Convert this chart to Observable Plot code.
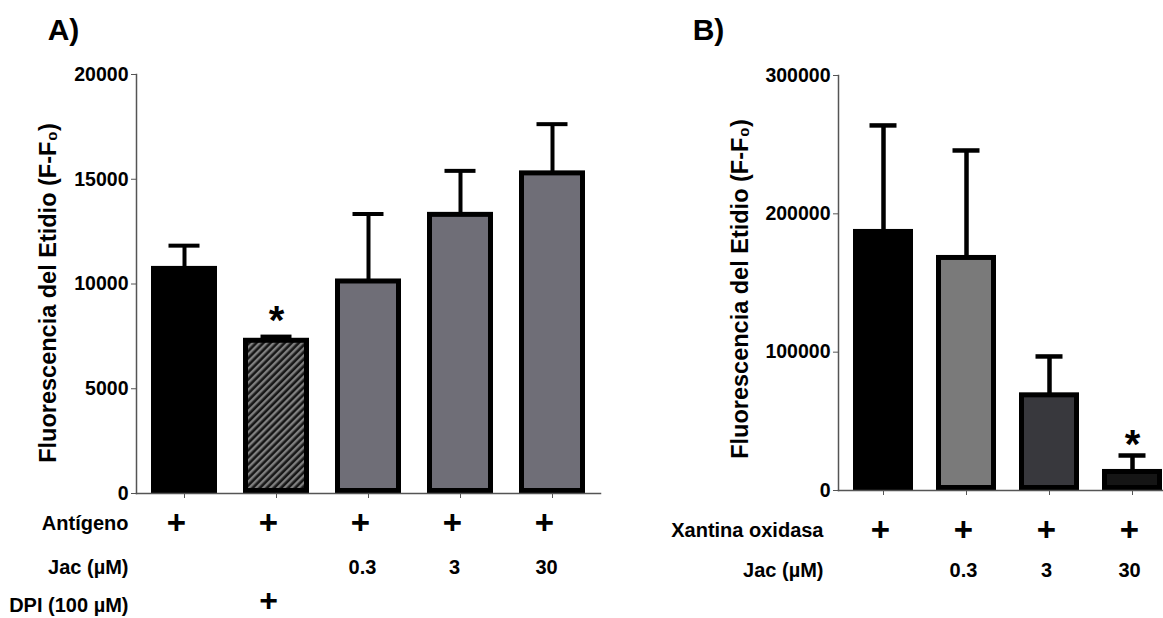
<!DOCTYPE html>
<html>
<head>
<meta charset="utf-8">
<script src="https://cdn.jsdelivr.net/npm/d3@7"></script>
<script src="https://cdn.jsdelivr.net/npm/@observablehq/plot@0.6"></script>
<style>
  html, body { margin: 0; padding: 0; background: #fff; }
  #wrap { position: relative; width: 1163px; height: 618px; overflow: hidden; background: #fff; }
  #panelA { position: absolute; left: 0; top: 0; }
  #panelB { position: absolute; left: 620px; top: 0; }
</style>
</head>
<body>
<div id="wrap"><div id="panelA"></div><div id="panelB"></div></div>
<script>
// ---------- Panel A data ----------
const categoriesA = ["Antígeno", "Antígeno + DPI", "Jac 0.3", "Jac 3", "Jac 30"];
const meansA = [10720, 7290, 10120, 13300, 15280];
const errorsA = [1110, 200, 3220, 2100, 2350];
const significantA = [false, true, false, false, false];
const antigenoRowA = ["+", "+", "+", "+", "+"];
const jacRowA = ["", "", "0.3", "3", "30"];
const dpiRowA = ["", "+", "", "", ""];
const yTicksA = [0, 5000, 10000, 15000, 20000];
const fillsA = ["#000000", "url(#hatchA)", "#6f6e77", "#6f6e77", "#6f6e77"];

// ---------- Panel B data ----------
const categoriesB = ["Xantina oxidasa", "XO + Jac 0.3", "XO + Jac 3", "XO + Jac 30"];
const meansB = [186900, 168100, 68800, 13400];
const errorsB = [77000, 77700, 28100, 11900];
const significantB = [false, false, false, true];
const xoRowB = ["+", "+", "+", "+"];
const jacRowB = ["", "0.3", "3", "30"];
const yTicksB = [0, 100000, 200000, 300000];
const fillsB = ["#000000", "#7a7a7a", "#38383d", "#151515"];

const yTitle = "Fluorescencia del Etidio (F-F₀)";
const font = "'Liberation Sans', Arial, Helvetica, sans-serif";

const dataA = categoriesA.map((c, i) => ({
  cat: c, mean: meansA[i], err: errorsA[i], sig: significantA[i],
  ant: antigenoRowA[i], jac: jacRowA[i], dpi: dpiRowA[i]
}));
const dataB = categoriesB.map((c, i) => ({
  cat: c, mean: meansB[i], err: errorsB[i], sig: significantB[i],
  xo: xoRowB[i], jac: jacRowB[i]
}));

const common = {
  style: { fontFamily: font, fontSize: "19px", fontWeight: "bold", color: "black", background: "transparent", overflow: "visible" }
};
const T = { fontWeight: "bold", fill: "black" };
const LBL = 20;   // row-label font size
const TICK = 19.5; // tick-label font size
const TITLE = 23.5;

const svgA = Plot.plot({
  ...common,
  width: 620, height: 618,
  marginLeft: 136, marginRight: 20, marginTop: 74, marginBottom: 125,
  x: { type: "band", domain: categoriesA, paddingInner: 0.285, paddingOuter: 0.157, axis: null },
  y: { domain: [0, 20000], axis: null },
  color: { domain: categoriesA, range: fillsA },
  marks: [
    Plot.barY(dataA, { x: "cat", y: "mean", fill: "cat", stroke: "black", strokeWidth: 5, insetLeft: 2.5, insetRight: 2.5, insetBottom: 2.5 }),
    Plot.ruleX(dataA, { x: "cat", y1: "mean", y2: d => d.mean + d.err, stroke: "black", strokeWidth: 4 }),
    Plot.tickY(dataA, { x: "cat", y: d => d.mean + d.err, stroke: "black", strokeWidth: 4, insetLeft: 17.5, insetRight: 17.5 }),
    Plot.frame({ anchor: "left", stroke: "#555", strokeWidth: 1.5 }),
    Plot.frame({ anchor: "bottom", stroke: "#555", strokeWidth: 1.5 }),
    Plot.axisY({ ticks: yTicksA, tickFormat: d => String(d), tickSize: 5, tickPadding: 3, stroke: "#555", fontSize: TICK, fontWeight: "bold", label: null }),
    Plot.axisX({ tickSize: 5, stroke: "#555", fill: "none", label: null }),
    Plot.text(dataA.filter(d => d.sig), { x: "cat", y: d => d.mean + d.err, text: () => "*", dy: -15, fontSize: 40, ...T }),
    Plot.text(dataA, { x: "cat", text: "ant", frameAnchor: "bottom", lineAnchor: "middle", textAnchor: "middle", dy: 30, dx: -8, fontSize: 33, ...T }),
    Plot.text(dataA, { x: "cat", text: "jac", frameAnchor: "bottom", lineAnchor: "middle", textAnchor: "middle", dy: 74, dx: -6, fontSize: LBL, ...T }),
    Plot.text(dataA, { x: "cat", text: "dpi", frameAnchor: "bottom", lineAnchor: "middle", textAnchor: "middle", dy: 107, dx: -8, fontSize: 32, ...T }),
    Plot.text(["Antígeno"], { frameAnchor: "bottom-left", textAnchor: "end", lineAnchor: "middle", dx: -8, dy: 30, fontSize: LBL, ...T }),
    Plot.text(["Jac (µM)"], { frameAnchor: "bottom-left", textAnchor: "end", lineAnchor: "middle", dx: -8, dy: 74, fontSize: LBL, ...T }),
    Plot.text(["DPI (100 µM)"], { frameAnchor: "bottom-left", textAnchor: "end", lineAnchor: "middle", dx: -8, dy: 112, fontSize: LBL, ...T }),
    Plot.text([yTitle], { frameAnchor: "left", rotate: -90, textAnchor: "middle", lineAnchor: "middle", dx: -88, dy: 9, fontSize: TITLE, ...T }),
    Plot.text(["A)"], { frameAnchor: "top-left", textAnchor: "middle", lineAnchor: "middle", dx: -73, dy: -44, fontSize: 30, ...T })
  ]
});
svgA.insertAdjacentHTML("afterbegin",
  '<defs><pattern id="hatchA" patternUnits="userSpaceOnUse" width="5" height="5" patternTransform="rotate(45)">' +
  '<rect width="5" height="5" fill="#161616"></rect><rect width="2.4" height="5" fill="#808080"></rect></pattern></defs>');
document.getElementById("panelA").appendChild(svgA);

const svgB = Plot.plot({
  ...common,
  width: 543, height: 618,
  marginLeft: 218, marginRight: 0, marginTop: 75, marginBottom: 128,
  x: { type: "band", domain: categoriesB, paddingInner: 0.28, paddingOuter: 0.086, align: 0.9, axis: null },
  y: { domain: [0, 300000], axis: null },
  color: { domain: categoriesB, range: fillsB },
  marks: [
    Plot.barY(dataB, { x: "cat", y: "mean", fill: "cat", stroke: "black", strokeWidth: 5, insetLeft: 2.5, insetRight: 2.5, insetBottom: 2.5 }),
    Plot.ruleX(dataB, { x: "cat", y1: "mean", y2: d => d.mean + d.err, stroke: "black", strokeWidth: 4.5 }),
    Plot.tickY(dataB, { x: "cat", y: d => d.mean + d.err, stroke: "black", strokeWidth: 4.5, insetLeft: 16.5, insetRight: 16.5 }),
    Plot.frame({ anchor: "left", stroke: "#555", strokeWidth: 1.5 }),
    Plot.frame({ anchor: "bottom", stroke: "#555", strokeWidth: 1.5 }),
    Plot.axisY({ ticks: yTicksB, tickFormat: d => String(d), tickSize: 5, tickPadding: 3, stroke: "#555", fontSize: TICK, fontWeight: "bold", label: null }),
    Plot.axisX({ tickSize: 5, stroke: "#555", fill: "none", label: null }),
    Plot.text(dataB.filter(d => d.sig), { x: "cat", y: d => d.mean + d.err, text: () => "*", dy: -10, fontSize: 40, ...T }),
    Plot.text(dataB, { x: "cat", text: "xo", frameAnchor: "bottom", lineAnchor: "middle", textAnchor: "middle", dy: 40, dx: -3, fontSize: 33, ...T }),
    Plot.text(dataB, { x: "cat", text: "jac", frameAnchor: "bottom", lineAnchor: "middle", textAnchor: "middle", dy: 80, dx: -3, fontSize: LBL, ...T }),
    Plot.text(["Xantina oxidasa"], { frameAnchor: "bottom-left", textAnchor: "end", lineAnchor: "middle", dx: -15, dy: 40, fontSize: LBL, ...T }),
    Plot.text(["Jac (µM)"], { frameAnchor: "bottom-left", textAnchor: "end", lineAnchor: "middle", dx: -15, dy: 80, fontSize: LBL, ...T }),
    Plot.text([yTitle], { frameAnchor: "left", rotate: -90, textAnchor: "middle", lineAnchor: "middle", dx: -98, dy: 6, fontSize: TITLE, ...T }),
    Plot.text(["B)"], { frameAnchor: "top-left", textAnchor: "middle", lineAnchor: "middle", dx: -130, dy: -45, fontSize: 30, ...T })
  ]
});
document.getElementById("panelB").appendChild(svgB);
</script>
</body>
</html>
